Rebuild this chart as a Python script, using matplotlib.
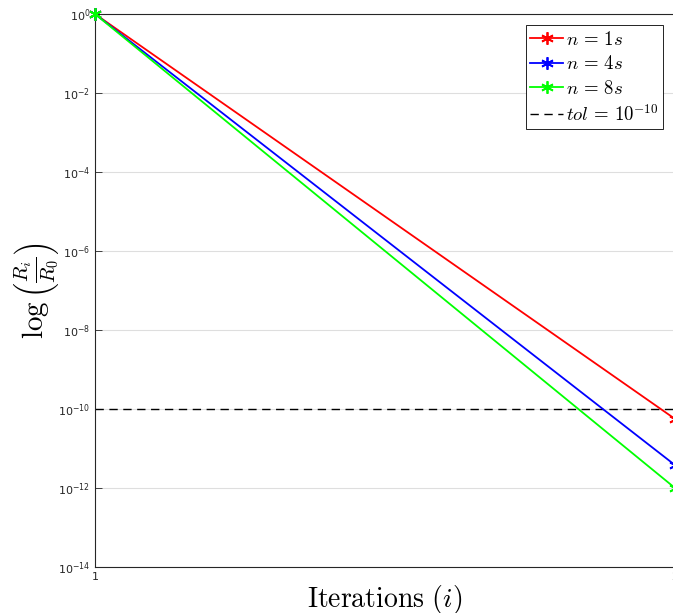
import numpy as np
import matplotlib
matplotlib.use('Agg')
import matplotlib.pyplot as plt
from matplotlib.ticker import FixedLocator, FuncFormatter, NullLocator

# data: residual ratio at iteration 1 and 2
iters = [1, 2]
res_1s = [1.0, 5.6e-11]
res_4s = [1.0, 3.8e-12]
res_8s = [1.0, 1.0e-12]
tol = 1e-10
labels = [r'$n\,=\,1s$', r'$n\,=\,4s$', r'$n\,=\,8s$']
colors = ['#ff0000', '#0000ff', '#00ff00']
yticks = [1e-14, 1e-12, 1e-10, 1e-8, 1e-6, 1e-4, 1e-2, 1e0]

fig = plt.figure(figsize=(6.73, 6.13), dpi=100)
ax = fig.add_axes([95/673, 1-567/613, 580/673, (567-14)/613])

for y, lab, c in zip([res_1s, res_4s, res_8s], labels, colors):
    ax.plot(iters, y, color=c, lw=1.3, marker=(6, 2, 0), ms=9, mew=1.3,
            label=lab, clip_on=False, zorder=5)
ax.axhline(tol, color='k', ls=(0, (6, 4)), lw=1.0, label=r'$tol\,=\,10^{-10}$')

ax.set_yscale('log')
ax.set_ylim(1e-14, 1e0)
ax.set_xlim(1, 2)
ax.yaxis.set_major_locator(FixedLocator(yticks))
ax.yaxis.set_minor_locator(NullLocator())
ax.yaxis.set_major_formatter(FuncFormatter(lambda v, p: r'$10^{%d}$' % round(np.log10(v))))
ax.set_xticks([1, 2])
ax.set_xticklabels(['1', '2'])
ax.tick_params(direction='in', labelsize=8, length=5, width=0.6, color='0.15', labelcolor='0.15')
for t in ax.get_yticklabels():
    t.set_math_fontfamily('dejavusans')
ax.grid(axis='y', color='0.87', lw=0.8)
for s in ax.spines.values():
    s.set_color('0.15')
    s.set_linewidth(0.8)

ax.set_xlabel(r'$\mathrm{Iterations}\ (i)$', fontsize=20, math_fontfamily='cm', labelpad=1)
ax.set_ylabel(r'$\log\left(\frac{R_i}{R_0}\right)$', fontsize=21, math_fontfamily='cm')
ax.yaxis.set_label_coords(-0.058, 0.5)

leg = ax.legend(loc='upper right', bbox_to_anchor=(663/673, 1-25/613), bbox_transform=fig.transFigure,
                borderaxespad=0, fancybox=False, edgecolor='k', framealpha=1, fontsize=13.5,
                handlelength=1.75, handletextpad=0.15, labelspacing=0.3, borderpad=0.25)
leg.get_frame().set_linewidth(0.6)
for t in leg.get_texts():
    t.set_math_fontfamily('cm')

fig.savefig('out.png', dpi=100)
